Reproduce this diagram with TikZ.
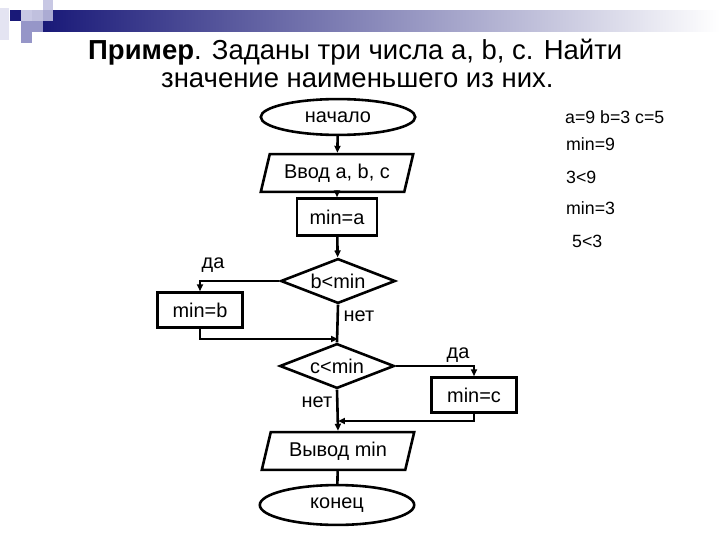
\documentclass[tikz,border=0pt]{standalone}
\usepackage{fontspec}
\setmainfont{Liberation Sans}
\usetikzlibrary{shapes.geometric,arrows.meta}
\definecolor{navy}{RGB}{25,25,120}
\definecolor{midgray}{RGB}{165,165,188}
\definecolor{pale}{RGB}{200,200,228}
\definecolor{vpale}{RGB}{228,228,242}
\definecolor{lav}{RGB}{150,150,200}
\tikzset{
  fc/.style={draw=black, line width=2.6pt, font=\fontsize{20}{23}\selectfont, inner sep=0pt},
  term/.style={fc, ellipse, minimum width=155, minimum height=36},
  io/.style={fc, trapezium, trapezium left angle=64, trapezium right angle=116, minimum width=153, minimum height=38, trapezium stretches body},
  proc/.style={fc, rectangle, minimum width=80, minimum height=37},
  dec/.style={fc, diamond, minimum width=115, minimum height=45, aspect=2.5},
  lbl/.style={font=\fontsize{20}{23}\selectfont, inner sep=0pt},
  side/.style={font=\fontsize{17.8}{20}\selectfont, inner sep=0pt, anchor=west},
  conn/.style={line width=2.6pt},
  arr/.style={conn, -{Triangle[length=7pt,width=6pt]}},
}
\begin{document}
\begin{tikzpicture}[x=1bp,y=-1bp]
\useasboundingbox (0,0) rectangle (720,540);
% decoration
\shade[left color=navy, middle color=midgray, right color=white] (43,11) rectangle (720,32);
\fill[vpale] (0,8) rectangle (9,40);
\fill[navy] (10,10) rectangle (21,21);
\fill[pale] (21,10) rectangle (32,21);
\fill[lav] (21,21) rectangle (32,32);
\fill[lav!60] (32,10) rectangle (43,21);
\fill[lav] (32,21) rectangle (43,32);
\fill[pale] (43,0) rectangle (53,10);
\fill[lav!80] (43,10) rectangle (53,21);
\fill[lav] (21,32) rectangle (32,43);
% title
\node[anchor=base west, inner sep=0pt, font=\fontsize{27.6}{30}\selectfont] (t1) at (88,60) {\textbf{Пример}. Заданы три числа a, b, c. Найти};
\node[anchor=base west, inner sep=0pt, font=\fontsize{27.6}{30}\selectfont] (t2) at (161,88) {значение наименьшего из них.};
% flowchart
\node[term] (start) at (338,117) {начало};
\node[io] (input) at (337,173) {Ввод a, b, c};
\node[proc] (mina) at (337,217) {min=a};
\node[dec] (d1) at (338,281) {b<min};
\node[proc, minimum width=85, minimum height=35] (minb) at (200,310) {min=b};
\node[dec] (d2) at (337,366) {c<min};
\node[proc, minimum width=85, minimum height=35] (minc) at (474,395) {min=c};
\node[io] (output) at (338,451) {Вывод min};
\node[term, minimum height=40] (end) at (337,505) {конец};
\coordinate (j1) at (338,339);
\coordinate (j2) at (338,421);
\draw[arr] (start) -- (input);
\draw[arr] (input) -- (mina);
\draw[arr] (mina) -- (d1);
\draw[arr] (d1.west) -| (minb.north);
\draw[arr] (minb.south) |- (j1);
\draw[conn] (d1.south) -- (d2.north);
\draw[arr] (d2.east) -| (minc.north);
\draw[arr] (minc.south) |- (j2);
\draw[arr] (d2.south) -- (output.north);
\draw[conn] (output) -- (end);
% labels
\node[lbl] (l1) at (213,265) {да};
\node[lbl] (l2) at (359,316) {нет};
\node[lbl] (l3) at (458,355) {да};
\node[lbl] (l4) at (317,402) {нет};
% side notes
\node[side] (s1) at (565,117) {a=9 b=3 c=5};
\node[side] (s2) at (566,144) {min=9};
\node[side] (s3) at (566,177) {3<9};
\node[side] (s4) at (566,208) {min=3};
\node[side] (s5) at (572,241) {5<3};
\end{tikzpicture}
\end{document}
